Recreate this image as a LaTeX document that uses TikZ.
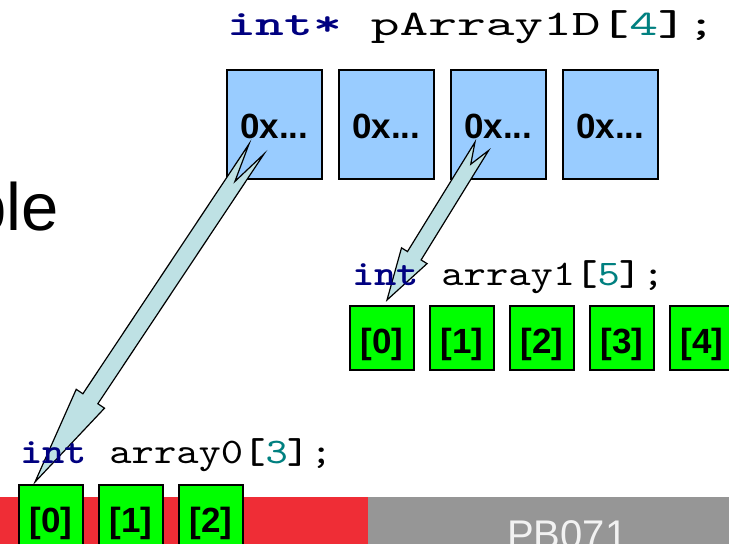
\documentclass[tikz,border=0pt]{standalone}
\usepackage{fontspec}
\usepackage{graphicx}
\usetikzlibrary{calc}
\newfontfamily\arialf{Liberation Sans}
\newfontfamily\codef{lmmono10-regular}[Extension=.otf,BoldFont=lmmonolt10-bold]
\definecolor{boxblue}{RGB}{153,204,255}
\definecolor{boxgreen}{RGB}{0,255,0}
\definecolor{kwblue}{RGB}{0,0,128}
\definecolor{numteal}{RGB}{0,128,128}
\definecolor{arrowfill}{RGB}{190,225,228}
\definecolor{bandred}{RGB}{239,45,54}
\definecolor{bandgray}{RGB}{150,150,150}
\definecolor{foottext}{RGB}{242,242,242}
\newcommand\code[2]{\scalebox{#1}[1]{\fontsize{36}{40}\selectfont\codef #2}}
\newcommand\kw[1]{{\bfseries\color{kwblue}#1}}
\newcommand\num[1]{{\color{numteal}#1}}
\newcommand\brk[1]{{\bfseries #1}}
% tail, tip, shaft half width, head half width, head length, notch depth
\newcommand\blockarrow[6]{%
  \path ($(#1)!#6!(#2)$) coordinate (ba-n)
        ($(#2)!#5!(#1)$) coordinate (ba-h)
        ($(#1)!#3!90:(#2)$) coordinate (ba-t1)
        ($(#1)!#3!-90:(#2)$) coordinate (ba-t2)
        ($(ba-h)!#3!90:(#2)$) coordinate (ba-j1)
        ($(ba-h)!#3!-90:(#2)$) coordinate (ba-j2)
        ($(ba-h)!#4!90:(#2)$) coordinate (ba-b1)
        ($(ba-h)!#4!-90:(#2)$) coordinate (ba-b2);
  \draw[blockarrowstyle] (ba-t1) -- (ba-j1) -- (ba-b1) -- (#2) -- (ba-b2) -- (ba-j2) -- (ba-t2) -- (ba-n) -- cycle;
}
\begin{document}
\begin{tikzpicture}[x=1pt,y=-1pt,
  ptrbox/.style={draw=black,line width=1.5pt,fill=boxblue,minimum width=95pt,minimum height=109pt,
    inner sep=0pt,anchor=north west,font=\arialf\bfseries\fontsize{35}{40}\selectfont,text height=29pt,text depth=0pt},
  cellbox/.style={draw=black,line width=1.5pt,fill=boxgreen,minimum width=64pt,minimum height=64pt,
    inner sep=0pt,anchor=north west,font=\arialf\bfseries\fontsize{35}{40}\selectfont,text height=31pt,text depth=0pt},
  codetext/.style={anchor=base west,inner sep=0pt},
  blockarrowstyle/.style={draw=black,line width=1.2pt,fill=arrowfill,line join=miter}]
\useasboundingbox (0,0) rectangle (729,544);
\clip (0,0) rectangle (729,544);
\fill[white] (0,0) rectangle (729,544);
% footer band
\fill[bandred] (0,497) rectangle (368,544);
\fill[bandgray] (368,497) rectangle (729,544);
\node[anchor=base west,inner sep=0pt,text=foottext,font=\arialf\fontsize{40}{44}\selectfont] (foot) at (507,548) {PB071};
% title fragment
\node[anchor=base east,inner sep=0pt,font=\arialf\fontsize{67}{70}\selectfont] (title) at (59,230) {ple};
% pointer array
\node[ptrbox] (p0) at (226,69) {0x...};
\node[ptrbox] (p1) at (338,69) {0x...};
\node[ptrbox] (p2) at (450,69) {0x...};
\node[ptrbox] (p3) at (562,69) {0x...};
% array1
\node[cellbox] (b0) at (349,305) {[0]};
\node[cellbox] (b1) at (429,305) {[1]};
\node[cellbox] (b2) at (509,305) {[2]};
\node[cellbox] (b3) at (589,305) {[3]};
\node[cellbox] (b4) at (669,305) {[4]};
% array0
\node[cellbox] (a0) at (18,484) {[0]};
\node[cellbox] (a1) at (98,484) {[1]};
\node[cellbox] (a2) at (178,484) {[2]};
% arrows
\coordinate (t1) at (256.5,149);
\coordinate (h1) at (35,482);
\coordinate (t2) at (481.8,146.3);
\coordinate (h2) at (387,300);
\blockarrow{t1}{h1}{9pt}{17pt}{100pt}{39pt}
\blockarrow{t2}{h2}{8pt}{15pt}{52pt}{21pt}
% code labels
\node[codetext] (decl) at (227,35.5) {\code{1.52}{\kw{int*} pArray1D\brk{[}\num{4}\brk{]};}};
\node[codetext] (decl1) at (352,285) {\code{1.18}{\kw{int} array1\brk{[}\num{5}\brk{]};}};
\node[codetext] (decl0) at (20,463) {\code{1.18}{\kw{int} array0\brk{[}\num{3}\brk{]};}};
\end{tikzpicture}
\end{document}
